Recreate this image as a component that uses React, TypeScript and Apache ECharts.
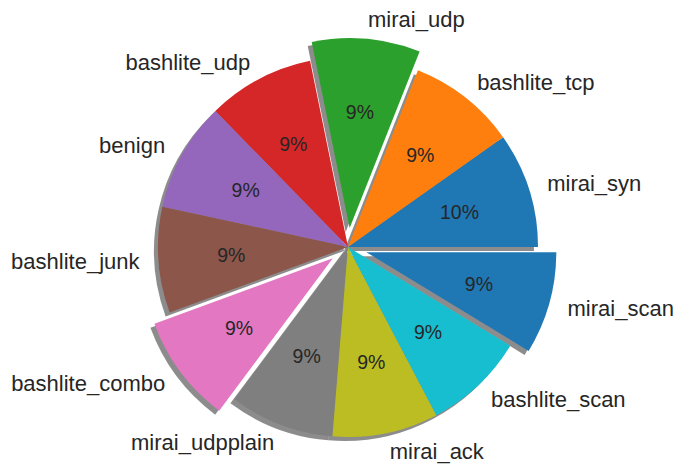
import React, { useEffect, useRef } from "react";
import * as echarts from "echarts";

const names = [
  "mirai_syn",
  "bashlite_tcp",
  "mirai_udp",
  "bashlite_udp",
  "benign",
  "bashlite_junk",
  "bashlite_combo",
  "mirai_udpplain",
  "mirai_ack",
  "bashlite_scan",
  "mirai_scan",
];
const values = [9.8, 9.2, 9.2, 9.1, 9.3, 9.0, 9.2, 8.9, 9.0, 8.6, 8.7];
const explodedNames = ["mirai_udp", "bashlite_combo", "mirai_scan"];
const colors = [
  "#1f77b4",
  "#ff7f0e",
  "#2ca02c",
  "#d62728",
  "#9467bd",
  "#8c564b",
  "#e377c2",
  "#7f7f7f",
  "#bcbd22",
  "#17becf",
  "#1f77b4",
];

const FONT = "Liberation Sans, Arial, sans-serif";

export default function App() {
  const ref = useRef<HTMLDivElement>(null);
  useEffect(() => {
    if (!ref.current) return;
    const chart = echarts.init(ref.current, undefined, { renderer: "svg" });
    const cx = 348;
    const cy = 247;
    const R = 190;
    const off = 19;
    const mk = (color: (i: number) => string) =>
      names.map((n, i) => ({
        name: n,
        value: values[i],
        selected: explodedNames.includes(n),
        itemStyle: { color: color(i) },
      }));
    const common = {
      type: "pie",
      startAngle: 0,
      clockwise: false,
      selectedMode: "multiple",
      selectedOffset: off,
      avoidLabelOverlap: false,
      percentPrecision: 0,
      emphasis: { disabled: true },
      silent: true,
      animation: false,
    };
    chart.setOption({
      animation: false,
      series: [
        {
          ...common,
          z: 1,
          center: [cx - 4, cy + 4],
          radius: [0, R],
          data: mk(() => "rgba(0,0,0,0.45)"),
          label: { show: false },
          labelLine: { show: false },
        },
        {
          ...common,
          z: 2,
          center: [cx, cy],
          radius: [0, R],
          data: mk((i) => colors[i]),
          itemStyle: { borderWidth: 0 },
          label: {
            show: true,
            position: "outside",
            formatter: "{b}",
            fontSize: 22,
            color: "#262626",
            fontFamily: FONT,
            distanceToLabelLine: 0,
          },
          labelLine: { show: false, length: 19, length2: 0 },
        },
        {
          ...common,
          z: 3,
          center: [cx, cy],
          radius: [R * 0.2, R],
          data: mk(() => "rgba(0,0,0,0)"),
          itemStyle: { borderWidth: 0 },
          label: {
            show: true,
            position: "inside",
            formatter: "{d}%",
            fontSize: 19.5,
            color: "#262626",
            fontFamily: FONT,
          },
          labelLine: { show: false },
        },
      ],
    });
    return () => chart.dispose();
  }, []);
  return (
    <div
      ref={ref}
      style={{ position: "fixed", left: 0, top: 0, width: 689, height: 464, background: "#fff" }}
    />
  );
}
